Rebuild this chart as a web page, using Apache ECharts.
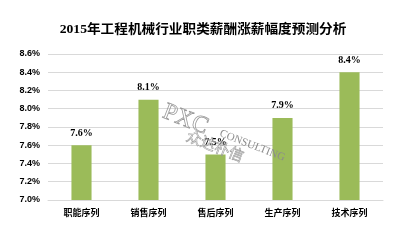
<!DOCTYPE html>
<html>
<head>
<meta charset="utf-8">
<script src="https://cdn.jsdelivr.net/npm/echarts@6/dist/echarts.min.js"></script>
<style>
html, body { margin: 0; padding: 0; background: #fff; }
#main { width: 406px; height: 240px; }
</style>
</head>
<body>
<div id="main"></div>
<script>
// 数据
var categories = ['职能序列', '销售序列', '售后序列', '生产序列', '技术序列'];
var values = [7.6, 8.1, 7.5, 7.9, 8.4];
var yMin = 7.0, yMax = 8.6, yStep = 0.2;
var titleText = '2015年工程机械行业职类薪酬涨薪幅度预测分析';

var chart = echarts.init(document.getElementById('main'));
var option = {
    animation: false,
    backgroundColor: '#fff',
    grid: { left: 48, right: 23, top: 54, bottom: 40 },
    xAxis: {
        type: 'category',
        data: categories,
        axisLine: { lineStyle: { color: '#d9d9d9' } },
        axisTick: { show: false },
        axisLabel: {
            color: '#000',
            fontSize: 9,
            fontWeight: 'bold',
            fontFamily: '"Noto Sans CJK SC"',
            margin: 8
        }
    },
    yAxis: {
        type: 'value',
        min: yMin,
        max: yMax,
        interval: yStep,
        axisLine: { show: false },
        axisTick: { show: false },
        splitLine: { lineStyle: { color: '#d9d9d9' } },
        axisLabel: {
            color: '#000',
            fontSize: 9,
            fontWeight: 'bold',
            fontFamily: '"Liberation Sans", Arial',
            margin: 8,
            formatter: function (v) { return v.toFixed(1) + '%'; }
        }
    },
    graphic: [
        {
            // 标题
            type: 'text', x: 203, y: 30, scaleX: 1.05,
            style: {
                text: titleText,
                font: 'bold 13px "Liberation Serif", "Noto Sans CJK SC"',
                fill: '#000',
                textAlign: 'center',
                textVerticalAlign: 'middle'
            }
        },
        {
            type: 'text', x: 168, y: 100, rotation: -0.37,
            style: { text: 'PXC', font: '24px "Liberation Serif"', fill: 'rgba(255,255,255,0)', stroke: '#9a9a9a', lineWidth: 0.8 },
            z: 100
        },
        {
            type: 'text', x: 222, y: 128, rotation: -0.37,
            style: { text: 'CONSULTING', font: '11px "Liberation Serif"', fill: '#8c8c8c' },
            z: 100
        },
        {
            type: 'text', x: 190, y: 128, rotation: -0.37,
            style: { text: '众达朴信', font: '15px "Noto Sans CJK SC"', fill: 'rgba(255,255,255,0)', stroke: '#9a9a9a', lineWidth: 0.6 },
            z: 100
        }
    ],
    series: [{
        type: 'bar',
        data: values,
        barWidth: '30%',
        itemStyle: { color: '#9bbb59' },
        label: {
            show: true,
            position: 'top',
            distance: 7,
            color: '#000',
            fontSize: 10,
            fontWeight: 'bold',
            fontFamily: '"Liberation Serif"',
            formatter: function (p) { return p.value.toFixed(1) + '%'; }
        }
    }]
};
chart.setOption(option);
</script>
</body>
</html>
